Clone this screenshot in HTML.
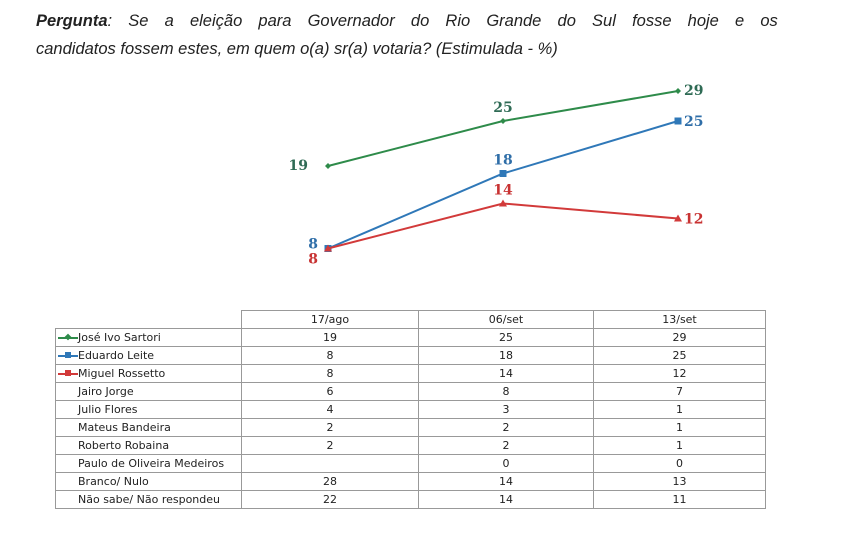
<!DOCTYPE html>
<html><head><meta charset="utf-8"><style>
body{margin:0;width:857px;height:534px;background:#fff;position:relative;overflow:hidden;font-family:"Liberation Sans",sans-serif}
#q{position:absolute;left:36px;top:7px;width:742px;font-style:italic;font-size:16.5px;color:#222;line-height:28px}
table{position:absolute;border-collapse:collapse;font-family:"DejaVu Sans","Liberation Sans",sans-serif;font-size:11px;color:#222}
td{border:1px solid #999;height:17px;padding:0;text-align:center}
td.n{text-align:left;padding-left:4px;width:181px;white-space:nowrap}
</style></head><body>
<div id="q"><span style="display:flex;justify-content:space-between;white-space:nowrap"><span><b>Pergunta</b>:</span><span>Se</span><span>a</span><span>eleição</span><span>para</span><span>Governador</span><span>do</span><span>Rio</span><span>Grande</span><span>do</span><span>Sul</span><span>fosse</span><span>hoje</span><span>e</span><span>os</span></span>candidatos fossem estes, em quem o(a) sr(a) votaria? (Estimulada - %)</div>
<svg id="chart" width="857" height="534" style="position:absolute;left:0;top:0"></svg>
<table style="left:55px;top:310px;width:711px">
<tr><td style="border:none;border-right:1px solid #999;width:185px"></td><td style="width:176px">17/ago</td><td style="width:174px">06/set</td><td>13/set</td></tr>
<tbody id="tb"></tbody>
</table>
<script>
const dates=["17/ago","06/set","13/set"];
const sartori=[19,25,29];
const leite=[8,18,25];
const rossetto=[8,14,12];
const rowNames=["José Ivo Sartori","Eduardo Leite","Miguel Rossetto","Jairo Jorge","Julio Flores","Mateus Bandeira","Roberto Robaina","Paulo de Oliveira Medeiros","Branco/ Nulo","Não sabe/ Não respondeu"];
const col1=["19","8","8","6","4","2","2","","28","22"];
const col2=["25","18","14","8","3","2","2","0","14","14"];
const col3=["29","25","12","7","1","1","1","0","13","11"];
const NS="http://www.w3.org/2000/svg";
const svg=document.getElementById('chart');
const xs=i=>328+i*175;
const ys=v=>308.5-7.5*v;
function mk(t,a){const e=document.createElementNS(NS,t);for(const k in a)e.setAttribute(k,a[k]);svg.appendChild(e);return e;}
const series=[
 {name:'sartori',vals:sartori,color:'#2e8b4a',tc:'#2f6b55',m:'diamond',lab:[[-20,4,'end'],[0,-9,'middle'],[6,4,'start']]},
 {name:'leite',vals:leite,color:'#2f78b8',tc:'#2f6ea8',m:'square',lab:[[-10,0,'end'],[0,-9,'middle'],[6,5,'start']]},
 {name:'rossetto',vals:rossetto,color:'#d23a3a',tc:'#c83232',m:'tri',lab:[[-10,15,'end'],[0,-9,'middle'],[6,5,'start']]}];
series.forEach(s=>{
 const pts=s.vals.map((v,i)=>xs(i)+','+ys(v)).join(' ');
 const pl=mk('polyline',{points:pts,fill:'none',stroke:s.color,'stroke-width':2});
 
 
 s.vals.forEach((v,i)=>{
  const x=xs(i),y=ys(v);let m;
  if(s.m==='diamond')m=mk('polygon',{points:`${x},${y-3} ${x+3},${y} ${x},${y+3} ${x-3},${y}`,fill:s.color});
  else if(s.m==='square')m=mk('rect',{x:x-3.5,y:y-3.5,width:7,height:7,fill:s.color});
  else m=mk('polygon',{points:`${x},${y-4} ${x+4},${y+3} ${x-4},${y+3}`,fill:s.color});
  
  
  const l=s.lab[i];
  const t=mk('text',{x:x+l[0],y:y+l[1],'text-anchor':l[2],fill:s.tc,'font-size':14,'font-weight':'bold','font-family':'DejaVu Serif,Liberation Serif,serif'});
  t.textContent=v;
  
  
 });
});
const tb=document.getElementById('tb');
const legendColors=['#2e8b4a','#2f78b8','#d23a3a'];
rowNames.forEach((n,i)=>{
 const tr=document.createElement('tr');
 
 
 let lg='';
 if(i<3){lg=`<span style="display:inline-block;position:relative;width:20px;height:10px;vertical-align:middle;margin-left:-2px"><span style="position:absolute;left:0;right:0;top:4px;height:2px;background:${legendColors[i]}"></span><span style="position:absolute;left:7px;top:1px;width:6px;height:6px;background:${legendColors[i]};${i==0?'transform:rotate(45deg) scale(.8);':''}"></span></span>`;}
 else lg='<span style="display:inline-block;width:18px"></span>';
 tr.innerHTML=`<td class="n">${lg}${n}</td><td>${col1[i]}</td><td>${col2[i]}</td><td>${col3[i]}</td>`;
 tb.appendChild(tr);
});
</script>
</body></html>
